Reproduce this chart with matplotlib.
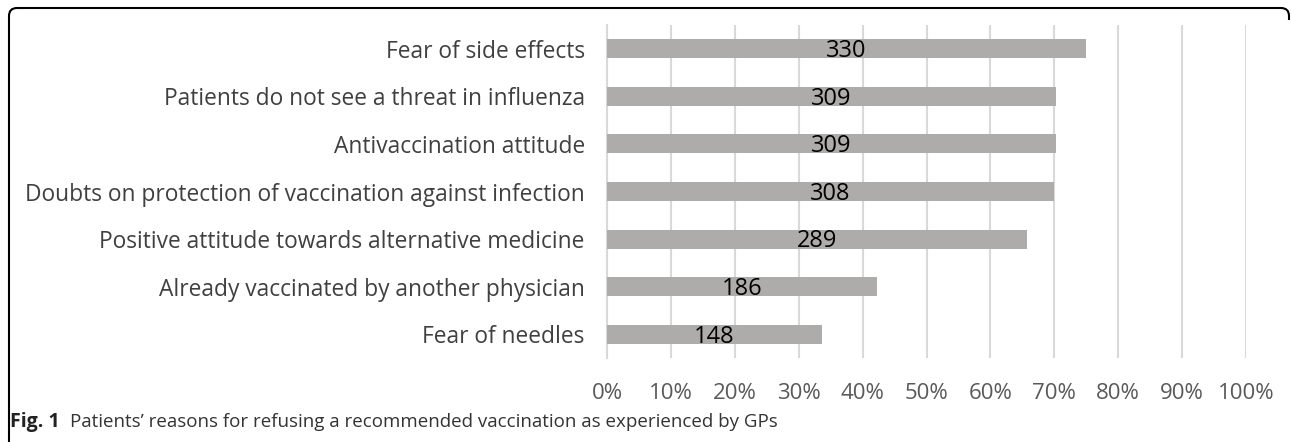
import matplotlib
matplotlib.use("Agg")
import matplotlib.pyplot as plt
from matplotlib.path import Path
from matplotlib.patches import PathPatch

# data (counts, N = 440 GPs)
reasons = [
    "Fear of side effects",
    "Patients do not see a threat in influenza",
    "Antivaccination attitude",
    "Doubts on protection of vaccination against infection",
    "Positive attitude towards alternative medicine",
    "Already vaccinated by another physician",
    "Fear of needles",
]
counts = [330, 309, 309, 308, 289, 186, 148]
total = 440
ticks = [0, 10, 20, 30, 40, 50, 60, 70, 80, 90, 100]

plt.rcParams['font.family'] = ['Open Sans', 'DejaVu Sans']

W, H = 1292, 442
fig = plt.figure(figsize=(W / 100, H / 100), dpi=100)
ax = fig.add_axes([607 / W, 1 - 358 / H, (1246 - 607) / W, (358 - 25) / H])

pcts = [c / total * 100 for c in counts]
ypos = list(range(len(reasons)))
ax.barh(ypos, pcts, height=0.4, color='#AEABAB', zorder=3)
# count labels sit in the middle of each bar, a touch low like the source
for y, p, c in zip(ypos, pcts, counts):
    ax.text(p / 2, y + 0.05, str(c), ha='center', va='center', fontsize=17,
            color='black', zorder=4)

ax.set_xlim(0, 100)
ax.set_ylim(len(reasons) - 0.5, -0.5)
ax.set_xticks(ticks)
ax.set_xticklabels([f"{t}%" for t in ticks], fontsize=16, color='#595959')
ax.set_yticks(ypos)
ax.set_yticklabels(reasons, fontsize=16.4, color='#404040')
ax.tick_params(axis='both', length=0)
ax.tick_params(axis='x', pad=18)
ax.tick_params(axis='y', pad=16)
ax.grid(axis='x', color='#D9D9D9', linewidth=1.5, zorder=0)
for s in ['top', 'right', 'bottom']:
    ax.spines[s].set_visible(False)
ax.spines['left'].set_color('#D9D9D9')
ax.spines['left'].set_linewidth(1.5)

# caption
fig.text(10 / W, 1 - 422 / H, "Fig. 1", fontsize=14, fontweight='bold',
         color='#222222', va='center')
fig.text(70 / W, 1 - 422 / H,
         "Patients\u2019 reasons for refusing a recommended vaccination as experienced by GPs",
         fontsize=13.5, color='#333333', va='center')

# rounded frame, open at the bottom and right like the source crop
r = 8
x0, x1, y0 = 9, 1289, 8
verts = [(x0, H), (x0, y0 + r), (x0, y0), (x0 + r, y0),
         (x1 - r, y0), (x1, y0), (x1, y0 + r), (x1, 20)]
codes = [Path.MOVETO, Path.LINETO, Path.CURVE3, Path.CURVE3,
         Path.LINETO, Path.CURVE3, Path.CURVE3, Path.LINETO]
verts = [(x / W, 1 - y / H) for x, y in verts]
frame = PathPatch(Path(verts, codes), transform=fig.transFigure,
                  fill=False, edgecolor='black', linewidth=1.5)
fig.patches.append(frame)

fig.savefig("out.png", dpi=100)
